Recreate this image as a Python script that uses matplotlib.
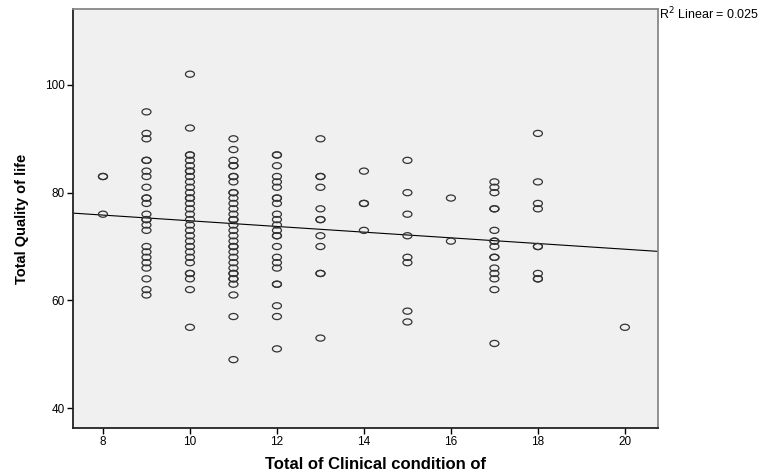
import numpy as np
import matplotlib
matplotlib.use("Agg")
import matplotlib.pyplot as plt
from matplotlib.path import Path

# Data (clinical condition total vs quality of life)
qol_by_clinical = {
    8: [83, 83, 76],
    9: [95, 91, 90, 86, 86, 84, 83, 81, 79, 79, 78, 76, 75, 75, 74, 73,
        70, 69, 68, 67, 66, 64, 62, 61],
    10: [102, 92, 87, 87, 86, 85, 84, 84, 83, 82, 81, 80, 79, 79, 78, 77,
         76, 75, 74, 73, 72, 71, 70, 69, 68, 67, 65, 65, 64, 62, 55],
    11: [90, 88, 86, 85, 85, 83, 83, 82, 80, 80, 79, 78, 77, 76, 75, 75,
         74, 73, 72, 71, 70, 70, 69, 68, 67, 66, 65, 65, 64, 64, 63, 61,
         57, 49],
    12: [87, 87, 85, 83, 82, 81, 79, 79, 78, 76, 75, 74, 73, 72, 72, 70,
         68, 67, 66, 63, 63, 59, 57, 51],
    13: [90, 83, 83, 81, 77, 75, 75, 72, 70, 65, 65, 53],
    14: [84, 78, 78, 73],
    15: [86, 80, 76, 72, 68, 67, 58, 56],
    16: [79, 71],
    17: [82, 81, 80, 77, 77, 73, 71, 71, 70, 68, 68, 66, 65, 64, 62, 52],
    18: [91, 82, 78, 77, 70, 70, 65, 64, 64],
    20: [55],
}

# Fit line as drawn by SPSS (R2 linear = 0.025)
fit_intercept = 80.06
fit_slope = -0.528
r2_text = "R$^2$ Linear = 0.025"

x_ticks = [8, 10, 12, 14, 16, 18, 20]
y_ticks = [40, 60, 80, 100]

xs = []
ys = []
for k, vals in qol_by_clinical.items():
    xs += [k] * len(vals)
    ys += vals
xs = np.array(xs)
ys = np.array(ys)

plt.rcParams['font.family'] = ['Liberation Sans', 'DejaVu Sans']

fig = plt.figure(figsize=(7.64, 4.74), dpi=100)
ax = fig.add_axes([0.0955, 0.097, 0.7657, 0.884])
ax.set_facecolor('#f0f0f0')

# slightly squashed circle, like the resized SPSS output
circ = Path.unit_circle()
ell = Path(circ.vertices * np.array([1.0, 0.68]), circ.codes)

ax.scatter(xs, ys, marker=ell, s=42, facecolors='none',
           edgecolors='#333333', linewidths=0.9, zorder=3)

ax.set_xlim(7.31, 20.76)
ax.set_ylim(36.3, 114.1)

line_x = np.array(ax.get_xlim())
ax.plot(line_x, fit_intercept + fit_slope * line_x, color='black',
        linewidth=0.8, zorder=2)

ax.set_xticks(x_ticks)
ax.set_yticks(y_ticks)
ax.tick_params(direction='out', length=4, width=1, labelsize=8.5,
               colors='black', pad=2)

for side in ['left', 'bottom']:
    ax.spines[side].set_linewidth(1.3)
    ax.spines[side].set_color('#222222')
for side in ['top', 'right']:
    ax.spines[side].set_linewidth(1.3)
    ax.spines[side].set_color('#888888')

ax.set_xlabel('Total of Clinical condition of', fontsize=12,
              fontweight='bold')
ax.xaxis.set_label_coords(0.518, -0.07)
ax.set_ylabel('Total Quality of life', fontsize=10.5, fontweight='bold')
ax.yaxis.set_label_coords(-0.075, 0.5)

fig.text(659 / 764, 1 - 14 / 474, r2_text, fontsize=9, va='center',
         ha='left')

plt.savefig("out.png", dpi=100)
